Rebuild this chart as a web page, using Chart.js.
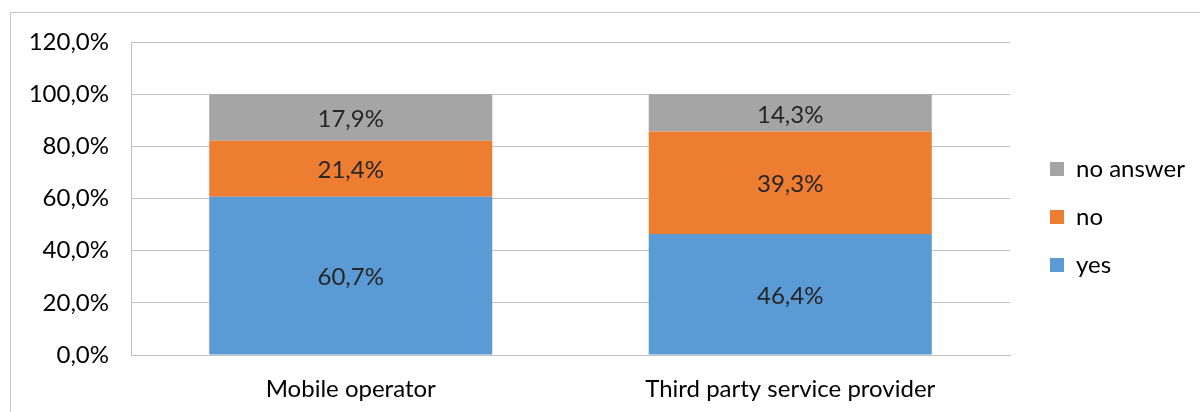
<!DOCTYPE html>
<html>
<head>
<meta charset="utf-8">
<script src="https://cdn.jsdelivr.net/npm/chart.js@4/dist/chart.umd.min.js"></script>
<style>
  body { margin: 0; background: #fff; }
  #frame { position: absolute; left: 10px; top: 12px; width: 1200px; height: 420px; border: 1px solid #c8c8c8; }
  #wrap { position: absolute; left: 0; top: 0; width: 1200px; height: 412px; }
</style>
</head>
<body>
<div id="frame"></div>
<div id="wrap"><canvas id="grafico" width="1200" height="412"></canvas></div>
<script>
const categorias = ['Mobile operator', 'Third party service provider']
const yes = [60.7, 46.4]
const no = [21.4, 39.3]
const noAnswer = [17.9, 14.3]
const ticksY = [0, 20, 40, 60, 80, 100, 120]

const fonte = 'Lato'

function pct(v, casas) {
    return v.toFixed(casas).replace('.', ',') + '%'
}

// rotulos dentro das barras
const rotulos = {
    id: 'rotulos',
    afterDatasetsDraw(chart) {
        let ctx = chart.ctx
        ctx.save()
        ctx.font = '24px ' + fonte
        ctx.fillStyle = '#262626'
        ctx.textAlign = 'center'
        ctx.textBaseline = 'middle'
        chart.data.datasets.forEach((ds, i) => {
            chart.getDatasetMeta(i).data.forEach((bar, j) => {
                let meio = (bar.y + bar.base) / 2 + 2
                ctx.fillText(pct(ds.data[j], 1), bar.x, meio)
            })
        })
        ctx.restore()
    }
}

// legenda: largura fixa e deslocada
const legendaAjuste = {
    id: 'legendaAjuste',
    afterInit(chart) {
        let lg = chart.legend
        let orig = lg.fit.bind(lg)
        lg.fit = function () { orig(); this.width = 190 }
    },
    afterLayout(chart) {
        let lg = chart.legend
        lg.left += 16
        lg.right += 16
        lg.top -= 10
        lg.bottom -= 10
    }
}

window.onload = () => {
    let contexto = document.getElementById('grafico').getContext('2d')
    new Chart(contexto, {
        type: 'bar',
        data: {
            labels: categorias,
            datasets: [{
                label: 'yes',
                backgroundColor: '#5B9BD5',
                data: yes
            }, {
                label: 'no',
                backgroundColor: '#ED7D31',
                data: no
            }, {
                label: 'no answer',
                backgroundColor: '#A5A5A5',
                data: noAnswer
            }]
        },
        options: {
            responsive: false,
            animation: false,
            layout: { padding: { top: 42, left: 0, right: 0, bottom: 0 } },
            datasets: { bar: { categoryPercentage: 0.644, barPercentage: 1 } },
            plugins: {
                legend: {
                    position: 'right',
                    reverse: true,
                    labels: {
                        font: { family: fonte, size: 24 },
                        color: '#000',
                        boxWidth: 14,
                        boxHeight: 14,
                        padding: 24
                    }
                },
                tooltip: { enabled: false }
            },
            scales: {
                x: {
                    stacked: true,
                    grid: { display: false },
                    border: { color: '#bfbfbf' },
                    ticks: { font: { family: fonte, size: 24 }, color: '#000', padding: 12 },
                    afterFit(s) { s.height = 57 }
                },
                y: {
                    stacked: true,
                    min: 0,
                    max: 120,
                    afterBuildTicks(s) { s.ticks = ticksY.map(v => ({ value: v })) },
                    grid: { color: '#bfbfbf', drawTicks: false },
                    border: { color: '#bfbfbf' },
                    ticks: {
                        font: { family: fonte, size: 24 },
                        color: '#000',
                        padding: 22,
                        callback: v => pct(v, 1)
                    },
                    afterFit(s) { s.width = 131 }
                }
            }
        },
        plugins: [rotulos, legendaAjuste]
    })
}
</script>
</body>
</html>
